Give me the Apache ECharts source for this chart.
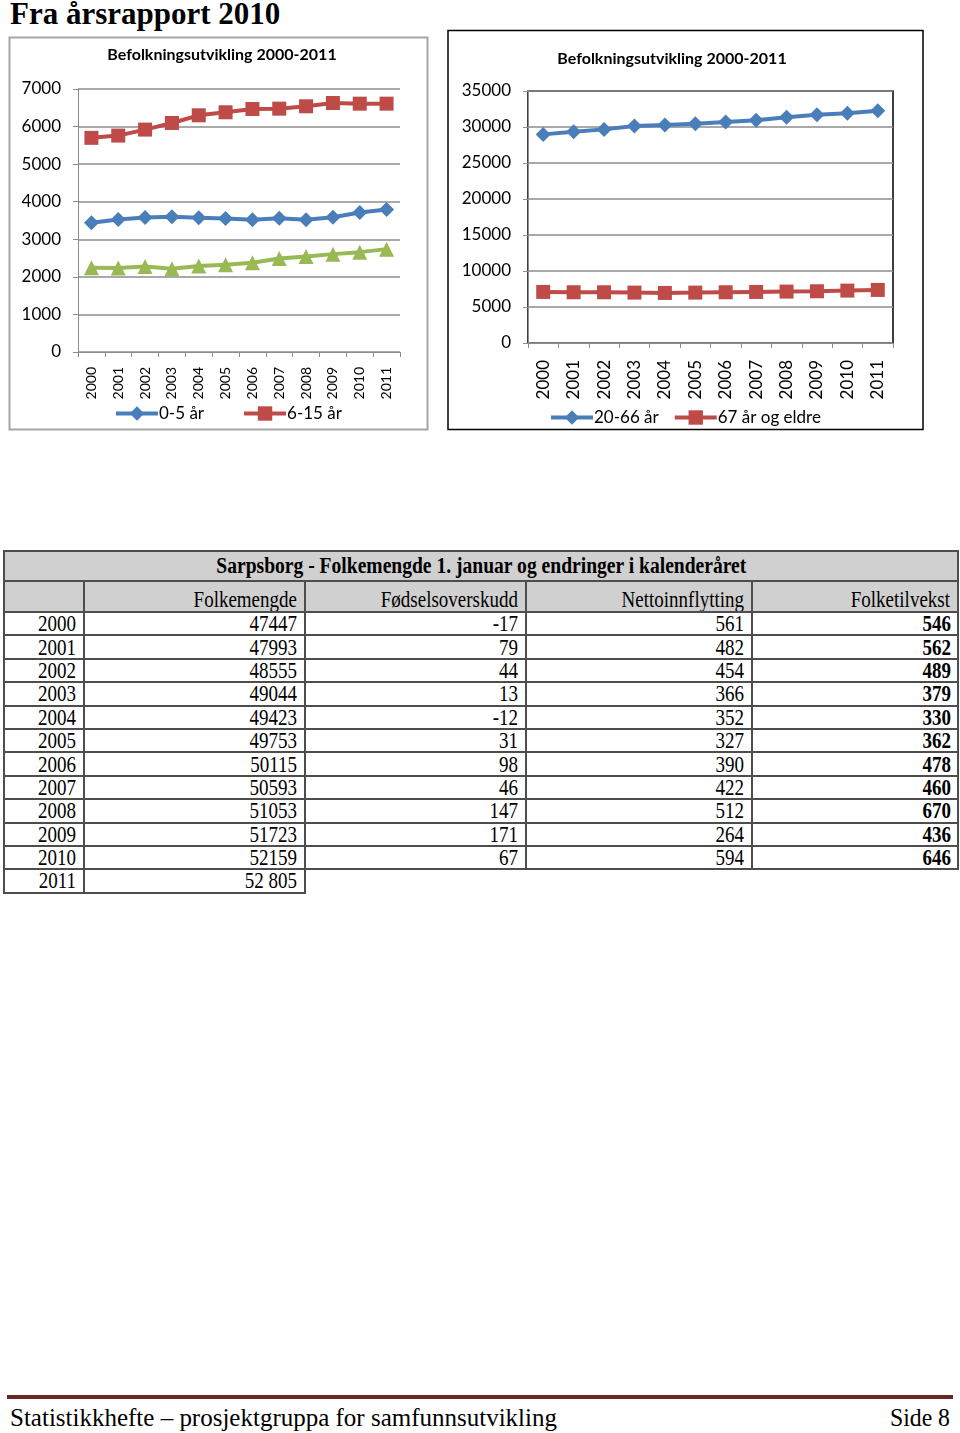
<!DOCTYPE html>
<html><head><meta charset="utf-8">
<script src="https://cdn.jsdelivr.net/npm/echarts@6/dist/echarts.min.js"></script>
<style>
html,body{margin:0;padding:0;background:#fff;}
body{width:960px;height:1433px;position:relative;overflow:hidden;}
#title{position:absolute;left:10px;top:-4px;font:bold 31px "Liberation Serif","Times New Roman",serif;color:#000;white-space:nowrap;}
#chart{position:absolute;left:0;top:0;width:960px;height:440px;}
#tbl{position:absolute;left:3px;top:550px;border-collapse:collapse;font:19px "Liberation Serif","Times New Roman",serif;color:#000;table-layout:fixed;}
#tbl td{border:2px solid #4d4d4d;padding:0 7px 0 0;text-align:right;white-space:nowrap;overflow:hidden;}
#tbl td span{display:inline-block;transform:scaleY(1.25);transform-origin:50% 60%;}
#tbl tr.ttl td{background:#d0d0d0;text-align:center;font-weight:bold;height:28px;padding:0;}
#tbl tr.ttl td span{transform:scale(1.03,1.25);}
#tbl tr.hdr td{background:#d0d0d0;vertical-align:bottom;height:29px;padding-bottom:0;}
#tbl tr.dat td{height:21.4px;line-height:19px;}
#tbl td.b{font-weight:bold;padding-right:6px;}
#tbl td.none{border:none;}
#rule{position:absolute;left:7px;top:1395px;width:946px;height:4px;background:#6b2626;}
#foot{position:absolute;left:10px;top:1403px;font:26px "Liberation Serif","Times New Roman",serif;white-space:nowrap;transform-origin:left top;}
#side{position:absolute;left:890px;top:1403px;font:26px "Liberation Serif","Times New Roman",serif;white-space:nowrap;transform-origin:left top;}
</style>
</head><body>
<div id="title">Fra årsrapport 2010</div>
<div id="chart"></div>
<table id="tbl"></table>
<div id="rule"></div>
<div id="foot">Statistikkhefte – prosjektgruppa for samfunnsutvikling</div>
<div id="side">Side 8</div>
<script>
// ---- chart data ----
const years = ['2000','2001','2002','2003','2004','2005','2006','2007','2008','2009','2010','2011'];
const age0to5   = [3438,3527,3580,3597,3571,3553,3518,3562,3518,3589,3713,3792];
const age6to15  = [5700,5760,5920,6096,6300,6380,6468,6477,6540,6628,6610,6610];
const age16to19 = [2242,2233,2277,2215,2286,2321,2375,2490,2543,2605,2658,2738];
const age20to66 = [28975,29346,29670,30134,30273,30459,30690,30922,31340,31711,31896,32267];
const age67plus = [7093,7047,7047,7000,6954,7000,7047,7093,7140,7186,7279,7371];
const chartTitle = 'Befolkningsutvikling 2000-2011';
const seriesNamesLeft = ['0-5 år','6-15 år','16-19 år'];
const seriesNamesRight = ['20-66 år','67 år og eldre'];

// ---- table data ----
const tableTitle = 'Sarpsborg - Folkemengde 1. januar og endringer i kalenderåret';
const tableHeaders = ['', 'Folkemengde', 'Fødselsoverskudd', 'Nettoinnflytting', 'Folketilvekst'];
const tableYears = ['2000','2001','2002','2003','2004','2005','2006','2007','2008','2009','2010','2011'];
const folkemengde = ['47447','47993','48555','49044','49423','49753','50115','50593','51053','51723','52159','52 805'];
const fodselsoverskudd = ['-17','79','44','13','-12','31','98','46','147','171','67',''];
const nettoinnflytting = ['561','482','454','366','352','327','390','422','512','264','594',''];
const folketilvekst = ['546','562','489','379','330','362','478','460','670','436','646',''];

const BLUE = '#4A7EBB', RED = '#BE4B48', GREEN = '#98B954';
const FONT = 'Lato, "Noto Sans", sans-serif';
const GRID = '#8c8c8c';

function lineSeries(name, data, color, symbol, size, xi) {
  return {
    type: 'line', name: name, data: data, xAxisIndex: xi, yAxisIndex: xi,
    symbol: symbol, symbolSize: size, showSymbol: true,
    lineStyle: { width: 4, color: color }, itemStyle: { color: color },
    emphasis: { disabled: true }, animation: false
  };
}
function catAxis(gi, fs, margin) {
  return {
    type: 'category', gridIndex: gi, data: years, boundaryGap: true,
    axisLine: { show: true, lineStyle: { color: GRID, width: 1 } },
    axisTick: { show: true, length: 5, alignWithLabel: false, interval: 0, lineStyle: { color: GRID } },
    axisLabel: { rotate: 90, interval: 0, fontSize: fs, color: '#000', fontFamily: FONT, margin: margin },
    splitLine: { show: false }
  };
}
function valAxis(gi, max, interval) {
  return {
    type: 'value', gridIndex: gi, min: 0, max: max, interval: interval,
    axisLine: { show: true, lineStyle: { color: GRID, width: 1 } },
    axisTick: { show: true, length: 5, lineStyle: { color: GRID } },
    axisLabel: { fontSize: 17, color: '#000', fontFamily: FONT, margin: 17, formatter: v => String(v) },
    splitLine: { show: true, lineStyle: { color: GRID, width: 1.5 } }
  };
}
function legendCfg(names, left, top, gap) {
  return {
    data: names, left: left, top: top, itemWidth: 42, itemHeight: 18, itemGap: gap,
    lineStyle: { width: 4 }, itemStyle: {},
    textStyle: { fontSize: 17, fontFamily: FONT, color: '#000', padding: [0,0,0,-4] }, selectedMode: false
  };
}

const chart = echarts.init(document.getElementById('chart'), null, { renderer: 'canvas' });
chart.setOption({
  animation: false,
  backgroundColor: 'transparent',
  title: [
    { text: chartTitle, left: 217, top: 42, textAlign: 'center',
      textStyle: { fontSize: 16, fontWeight: 'bold', fontFamily: FONT, color: '#000' } },
    { text: chartTitle, left: 667, top: 46, textAlign: 'center',
      textStyle: { fontSize: 16, fontWeight: 'bold', fontFamily: FONT, color: '#000' } }
  ],
  legend: [
    legendCfg([seriesNamesLeft[0], seriesNamesLeft[1]], 109, 400, 38),
    legendCfg(seriesNamesRight, 544, 404, 14)
  ],
  grid: [
    { left: 78, top: 89, width: 322, height: 263, containLabel: false },
    { left: 528, top: 91, width: 365, height: 252, containLabel: false, show: true, borderColor: '#000', borderWidth: 1.5, backgroundColor: 'transparent' }
  ],
  xAxis: [catAxis(0, 14, 15), catAxis(1, 17, 17)],
  yAxis: [valAxis(0, 7000, 1000), valAxis(1, 35000, 5000)],
  series: [
    lineSeries(seriesNamesLeft[0], age0to5, BLUE, 'diamond', 15, 0),
    lineSeries(seriesNamesLeft[1], age6to15, RED, 'rect', 14, 0),
    lineSeries(seriesNamesLeft[2], age16to19, GREEN, 'triangle', 15, 0),
    lineSeries(seriesNamesRight[0], age20to66, BLUE, 'diamond', 15, 1),
    lineSeries(seriesNamesRight[1], age67plus, RED, 'rect', 14, 1)
  ],
  graphic: [
    { type: 'rect', shape: { x: 9.5, y: 37.5, width: 418, height: 392 }, style: { fill: 'none', stroke: '#a6a6a6', lineWidth: 2 }, silent: true },
    { type: 'rect', shape: { x: 448, y: 30.5, width: 475, height: 399 }, style: { fill: 'none', stroke: '#000', lineWidth: 1.5 }, silent: true }
  ]
});

// ---- build table ----
const tbl = document.getElementById('tbl');
const colW = [80, 221, 221, 226, 206];
const cg = document.createElement('colgroup');
colW.forEach(w => { const c = document.createElement('col'); c.style.width = w + 'px'; cg.appendChild(c); });
tbl.appendChild(cg);
function sp(t){ return '<span>' + t + '</span>'; }
let html = '<tr class="ttl"><td colspan="5">' + sp(tableTitle) + '</td></tr>';
html += '<tr class="hdr">' + tableHeaders.map(h => '<td>' + sp(h) + '</td>').join('') + '</tr>';
tableYears.forEach((y, i) => {
  if (fodselsoverskudd[i] === '') {
    html += '<tr class="dat"><td>' + sp(y) + '</td><td>' + sp(folkemengde[i]) + '</td><td class="none"></td><td class="none"></td><td class="none"></td></tr>';
  } else {
    html += '<tr class="dat"><td>' + sp(y) + '</td><td>' + sp(folkemengde[i]) + '</td><td>' + sp(fodselsoverskudd[i]) +
      '</td><td>' + sp(nettoinnflytting[i]) + '</td><td class="b">' + sp(folketilvekst[i]) + '</td></tr>';
  }
});
tbl.innerHTML += html;

// footer fit
function fit(id, w){ const el = document.getElementById(id); const r = el.getBoundingClientRect().width; el.style.transform = 'scaleX(' + (w / r) + ')'; }
fit('foot', 547);
fit('side', 60);
</script>
</body></html>
